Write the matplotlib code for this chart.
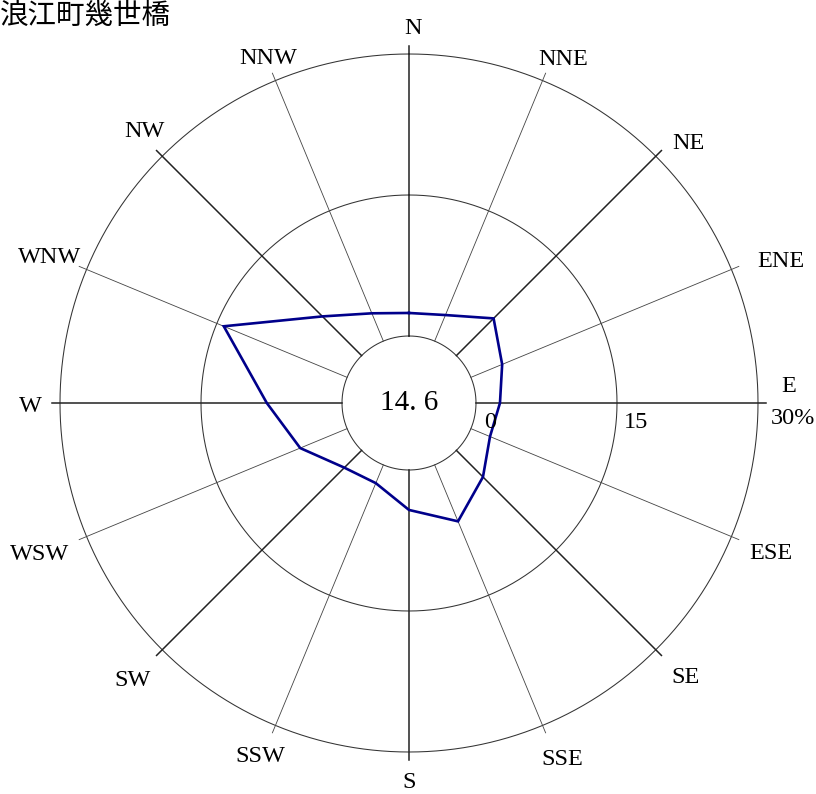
import numpy as np
import matplotlib
matplotlib.use('Agg')
import matplotlib.pyplot as plt

title = "浪江町幾世橋"
directions = ["N", "NNE", "NE", "ENE", "E", "ESE", "SE", "SSE",
              "S", "SSW", "SW", "WSW", "W", "WNW", "NW", "NNW"]
freq = [2.45, 3.0, 5.6, 3.6, 2.55, 2.2, 4.0, 6.5,
        4.25, 2.1, 2.6, 5.4, 8.0, 14.2, 5.9, 3.2]
calm = 14.6
ring_values = [0, 15, 30]
ring_labels = ["0", "15", "30%"]

W, H = 816, 794
fig = plt.figure(figsize=(W / 100, H / 100), dpi=100)
cx, cy = 409, 403
R_outer = 349
R_inner = 67
k = (R_outer - R_inner) / 30.0
rorigin = -R_inner / k

ax = fig.add_axes([(cx - R_outer) / W, (H - cy - R_outer) / H,
                   2 * R_outer / W, 2 * R_outer / H], projection='polar')
ax.set_theta_zero_location('N')
ax.set_theta_direction(-1)
ax.set_ylim(0, 30)
ax.set_rorigin(rorigin)
ax.axis('off')

serif = ['Liberation Serif', 'DejaVu Serif']
fs = 17.5

# rings
th = np.linspace(0, 2 * np.pi, 1441)
for v in ring_values:
    ax.plot(th, np.full_like(th, v), color='#333333', lw=0.75, clip_on=False)

# spokes
angles = np.deg2rad(np.arange(16) * 22.5)
spoke_end = (357 - R_inner) / k
for i, a in enumerate(angles):
    major = (i % 2 == 0)
    ax.plot([a, a], [0, spoke_end], color='#222222' if major else '#444444',
            lw=1.1 if major else 0.6, clip_on=False)

# data polygon
ax.plot(np.append(angles, angles[0]), np.append(freq, freq[0]),
        color='#00008B', lw=1.9, clip_on=False, solid_joinstyle='miter')

# direction label placement (angle in degrees, radius in pixels)
label_deg = [0.6, 24.0, 46.8, 68.7, 90, 112.2, 134.5, 156.6,
             180, 203.0, 225.2, 248.1, 270, 292.5, 316.0, 337.9]
label_px = [378, 379, 384, 399, 0, 391, 388, 385, 379, 381, 389, 398, 379, 389, 381, 375]
for i, name in enumerate(directions):
    if name == "E":
        ax.annotate(name, xy=(angles[i], spoke_end), xytext=(15, 6),
                    textcoords='offset pixels', annotation_clip=False,
                    ha='left', va='bottom', fontsize=fs, family=serif)
        continue
    r = (label_px[i] - R_inner) / k
    dy = 0 if name == "S" else -3
    ax.annotate(name, xy=(np.deg2rad(label_deg[i]), r), xytext=(0, dy),
                textcoords='offset pixels', annotation_clip=False,
                ha='center', va='center', fontsize=fs, family=serif)

# ring labels
offsets = [(8, -9), (7, -9), (13, -5)]
for v, lab, off in zip(ring_values, ring_labels, offsets):
    ax.annotate(lab, xy=(np.pi / 2, v), xytext=off, textcoords='offset pixels',
                annotation_clip=False, ha='left', va='top', fontsize=fs, family=serif)

# calm
ax.text(0.5, 0.5, f"{calm:.1f}".replace(".", ". "), transform=ax.transAxes,
        ha='center', va='center', fontsize=21, family=serif)

fig.text(0.0, 1 - 1 / H, title, ha='left', va='top', fontsize=20.5,
         family=['Noto Sans CJK JP', 'DejaVu Sans'])

fig.savefig('out.png', dpi=100)
